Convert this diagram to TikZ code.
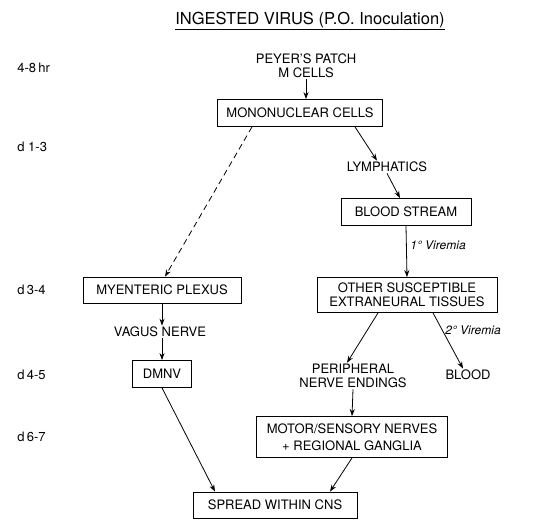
\documentclass[tikz,border=0pt]{standalone}
\usepackage{fontspec}
\setmainfont{TeX Gyre Heros}
\usetikzlibrary{arrows.meta}

\begin{document}
\begin{tikzpicture}[
  x=1pt, y=-1pt,
  box/.style={draw, rectangle, minimum height=27pt, inner sep=2pt, align=center},
  lbl/.style={inner sep=1pt, align=center},
  day/.style={anchor=west, inner sep=0pt},
  vir/.style={anchor=west, inner sep=0pt, font=\fontsize{12}{14}\selectfont\itshape},
  flow/.style={-{Stealth[length=7pt, width=5pt]}},
  font=\fontsize{13}{14}\selectfont,
  line width=0.8pt
]
  \useasboundingbox (0,0) rectangle (534,519);

  \node[lbl, font=\fontsize{16.5}{18}\selectfont] (title) at (310,21) {\underline{INGESTED VIRUS (P.O. Inoculation)}};

  % time scale
  \node[day] (t1) at (17,68) {4-8\,hr};
  \node[day] (t2) at (17,147) {d 1-3};
  \node[day] (t3) at (17,290) {d\,3-4};
  \node[day] (t4) at (17,375) {d\,4-5};
  \node[day] (t5) at (17,437) {d\,6-7};

  \node[lbl] (peyer) at (306,66) {PEYER'S PATCH\\M CELLS};
  \node[box, minimum width=165pt] (mono) at (300,113) {MONONUCLEAR CELLS};
  \node[lbl] (lymph) at (387,167) {LYMPHATICS};
  \node[box, minimum width=130pt] (blood) at (406,212) {BLOOD STREAM};
  \node[vir] (v1) at (410,245) {1\textdegree\ Viremia};
  \node[box, minimum width=180pt, minimum height=35pt] (other) at (407,295) {OTHER SUSCEPTIBLE\\EXTRANEURAL TISSUES};
  \node[box, minimum width=158pt, minimum height=26pt] (myent) at (162,290) {MYENTERIC PLEXUS};
  \node[lbl] (vagus) at (160,332) {VAGUS NERVE};
  \node[box, minimum width=59pt] (dmnv) at (162,374) {DMNV};
  \node[lbl] (periph) at (353,376) {PERIPHERAL\\NERVE ENDINGS};
  \node[lbl] (blood2) at (468,375) {BLOOD};
  \node[vir] (v2) at (445,330) {2\textdegree\ Viremia};
  \node[box, minimum width=191pt, minimum height=41pt, font=\fontsize{13}{17}\selectfont] (motor) at (352,437) {MOTOR/SENSORY NERVES\\+ REGIONAL GANGLIA};
  \node[box, minimum width=164pt, minimum height=26pt] (cns) at (275,505) {SPREAD WITHIN CNS};

  \draw[flow] (peyer.south) -- (peyer.south |- mono.north);
  \draw[flow, dash pattern=on 6pt off 4pt] ([xshift=-48pt]mono.south) -- ([xshift=3pt]myent.north);
  \draw[flow] ([xshift=55pt]mono.south) -- ([xshift=-10pt]lymph.north);
  \draw[flow] (lymph.south) -- ([xshift=-6pt]blood.north);
  \draw[flow] (blood.south) -- (other.north);
  \draw[flow] ([xshift=-29pt]other.south) -- ([xshift=-6pt]periph.north);
  \draw[flow] ([xshift=26pt]other.south) -- ([xshift=-5pt]blood2.north);
  \draw[flow] (periph.south) -- (motor.north);
  \draw[flow] (myent.south) -- ([xshift=2pt]vagus.north);
  \draw[flow] ([xshift=2pt]vagus.south) -- (dmnv.north);
  \draw[flow] (dmnv.south) -- ([xshift=-60pt]cns.north);
  \draw[flow] (motor.south) -- ([xshift=55pt]cns.north);
\end{tikzpicture}
\end{document}
